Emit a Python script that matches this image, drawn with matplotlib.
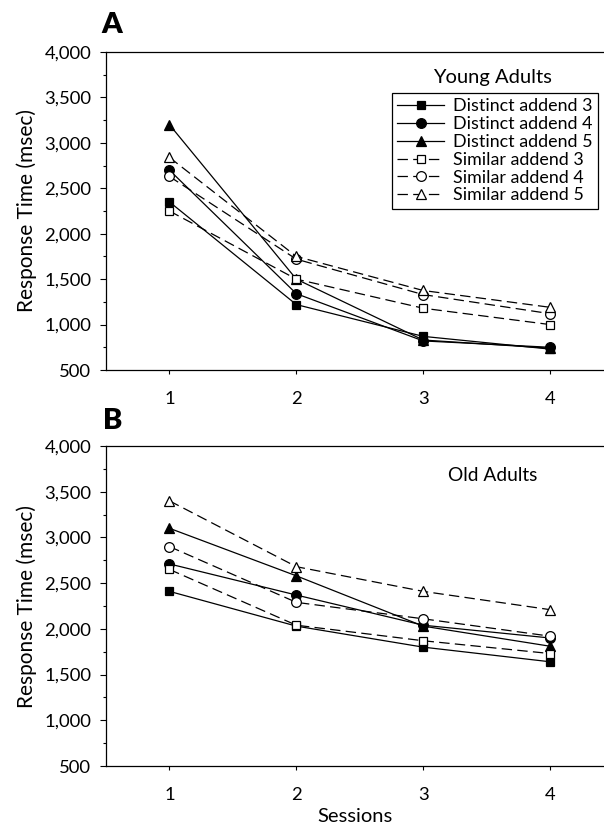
import matplotlib
matplotlib.use("Agg")
import matplotlib.pyplot as plt
from matplotlib.ticker import MultipleLocator, FuncFormatter

plt.rcParams['font.family'] = ['Lato', 'DejaVu Sans']
plt.rcParams['lines.scale_dashes'] = False

sessions = [1, 2, 3, 4]
labels = ['Distinct addend 3', 'Distinct addend 4', 'Distinct addend 5',
          'Similar addend 3', 'Similar addend 4', 'Similar addend 5']

# panel A, young adults
young_da3 = [2350, 1220, 870, 730]
young_da4 = [2700, 1340, 820, 750]
young_da5 = [3200, 1500, 830, 740]
young_sa3 = [2250, 1500, 1180, 1000]
young_sa4 = [2630, 1720, 1330, 1120]
young_sa5 = [2840, 1750, 1375, 1190]

# panel B, old adults
old_da3 = [2410, 2030, 1800, 1640]
old_da4 = [2710, 2370, 2040, 1900]
old_da5 = [3100, 2580, 2030, 1810]
old_sa3 = [2650, 2040, 1870, 1730]
old_sa4 = [2900, 2290, 2110, 1920]
old_sa5 = [3400, 2680, 2410, 2210]

young = [young_da3, young_da4, young_da5, young_sa3, young_sa4, young_sa5]
old = [old_da3, old_da4, old_da5, old_sa3, old_sa4, old_sa5]

markers = ['s', 'o', '^', 's', 'o', '^']
msizes = [6, 7, 6.5, 6, 7, 6.5]


def draw(ax, series, title, title_y, title_size, with_legend):
    for i, ys in enumerate(series):
        filled = i < 3
        ln, = ax.plot(sessions, ys, color='black', lw=0.9,
                      marker=markers[i], ms=msizes[i], mew=0.9,
                      mfc='black' if filled else 'white', mec='black',
                      label=labels[i])
        if not filled:
            ln.set_dashes((7.5, 3.8))
    ax.set_xlim(0.5, 4.425)
    ax.set_ylim(500, 4000)
    ax.yaxis.set_major_locator(MultipleLocator(500))
    ax.yaxis.set_minor_locator(MultipleLocator(250))
    ax.yaxis.set_major_formatter(FuncFormatter(lambda v, p: f'{int(v):,}'))
    ax.set_xticks(sessions)
    ax.spines['right'].set_visible(False)
    for s in ['left', 'bottom', 'top']:
        ax.spines[s].set_linewidth(0.9)
    ax.tick_params(axis='y', which='major', direction='out', length=4.5,
                   width=0.8, pad=6, labelsize=13.3, right=False)
    ax.tick_params(axis='y', which='minor', direction='out', length=2.5,
                   width=0.8, right=False)
    ax.tick_params(axis='x', direction='out', length=3, width=0.8, pad=12,
                   labelsize=13.3, top=False)
    ax.set_ylabel('Response Time (msec)', fontsize=15, labelpad=5)
    ax.text(0.777, title_y, title, transform=ax.transAxes,
            fontsize=title_size, ha='center', va='center')
    if with_legend:
        leg = ax.legend(loc='upper right', bbox_to_anchor=(0.988, 0.871),
                        borderaxespad=0, fontsize=12.9, frameon=True,
                        fancybox=False, edgecolor='black', framealpha=1,
                        handlelength=2.6, handletextpad=0.5,
                        labelspacing=0.1, borderpad=0.3)
        leg.get_frame().set_linewidth(0.9)


fig = plt.figure(figsize=(6.04, 8.30), dpi=100)
ax_a = fig.add_axes([106 / 604, 460 / 830, 498 / 604, 318 / 830])
ax_b = fig.add_axes([106 / 604, 64 / 830, 498 / 604, 320 / 830])

draw(ax_a, young, 'Young Adults', 0.921, 14.5, True)
draw(ax_b, old, 'Old Adults', 0.909, 13.8, False)
ax_b.set_xlabel('Sessions', fontsize=14.5, labelpad=4)

fig.text(112 / 604, 1 - 25 / 830, 'A', fontsize=21, fontweight='heavy',
         ha='center', va='center')
fig.text(113 / 604, 1 - 421 / 830, 'B', fontsize=21, fontweight='heavy',
         ha='center', va='center')

fig.savefig('out.png', dpi=100)
